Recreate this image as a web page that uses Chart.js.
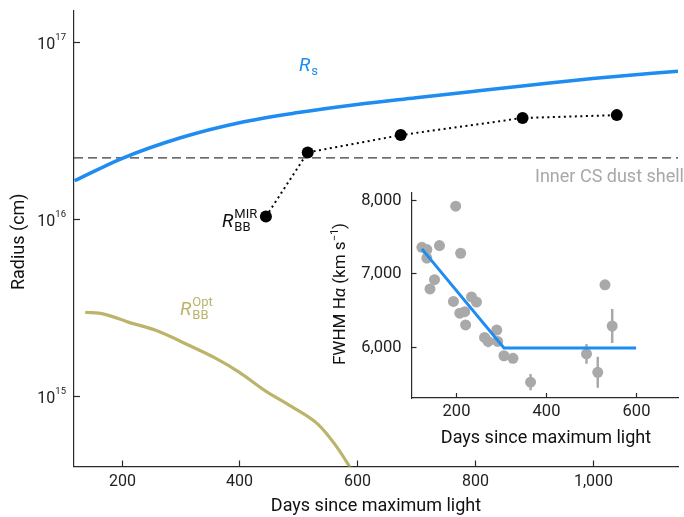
<!DOCTYPE html>
<html>
<head>
<meta charset="utf-8">
<script src="https://cdn.jsdelivr.net/npm/chart.js@4.4.1/dist/chart.umd.min.js"></script>
<style>
html, body { margin: 0; padding: 0; background: #fff; }
#wrap { position: relative; width: 684px; height: 517px; }
canvas { position: absolute; left: 0; top: 0; }
</style>
</head>
<body>
<div id="wrap">
  <canvas id="main" width="684" height="517"></canvas>
  <canvas id="inset" width="684" height="517"></canvas>
</div>
<script>

// main panel: radius vs days
var rsDays = [120, 200, 300, 400, 500, 600, 700, 800, 900, 1000, 1145];
var rsRadius = [1.64e16, 2.19e16, 2.87e16, 3.49e16, 3.98e16, 4.42e16, 4.82e16, 5.25e16, 5.71e16, 6.19e16, 6.82e16];

var optDays = [138, 170, 210, 259, 316, 360, 400, 444, 489, 534, 561, 585, 597];
var optRadius = [2.97e15, 2.90e15, 2.62e15, 2.34e15, 1.92e15, 1.63e15, 1.36e15, 1.07e15, 8.7e14, 6.9e14, 5.4e14, 4.1e14, 3.5e14];

var mirDays = [445, 516, 674, 881, 1041];
var mirRadius = [1.03e16, 2.37e16, 2.97e16, 3.71e16, 3.85e16];

var dustRadius = 2.21e16;

var xMin = 119, xMax = 1145;
var yMin = 4.0e14, yMax = 1.49e17;
var xTicks = [200, 400, 600, 800, 1000];
var yTicks = [1e15, 1e16, 1e17];

// inset: FWHM of H-alpha
var fwhmDays = [125, 136, 136, 164, 200, 211, 153, 143, 195, 235, 246, 209, 220, 222, 264, 272, 291, 293, 307, 327, 366, 490, 515, 531, 547];
var fwhmVals = [7350, 7320, 7205, 7375, 7910, 7270, 6910, 6785, 6615, 6675, 6605, 6455, 6475, 6295, 6125, 6070, 6225, 6070, 5875, 5840, 5515, 5900, 5650, 6840, 6280];
var fwhmErr = [0, 0, 70, 0, 0, 0, 0, 0, 0, 0, 0, 0, 0, 0, 0, 80, 0, 0, 0, 0, 111, 134, 211, 0, 232];

var fitDays = [125, 307, 600];
var fitVals = [7330, 5980, 5980];

var insetXMin = 102, insetXMax = 694;
var insetYMin = 5300, insetYMax = 8090;
var insetXTicks = [200, 400, 600];
var insetYTicks = [6000, 7000, 8000];

var BLUE = '#1f8cf2';
var OLIVE = '#bdb46b';
var GREY = '#a9a9a9';
var AXIS = '#2a2a2a';
var FONT = 'Roboto, "Liberation Sans", sans-serif';

function toXY(xs, ys) {
    return xs.map(function (x, i) { return { x: x, y: ys[i] }; });
}

function fmt(v) {
    return v.toLocaleString('en-US');
}

// draws a run of text pieces (different fonts / baseline shifts) starting at x
function drawRuns(ctx, runs, x, y, align) {
    var total = 0;
    runs.forEach(function (r) { ctx.font = r.font; total += ctx.measureText(r.t).width; });
    var cx = align === 'right' ? x - total : align === 'center' ? x - total / 2 : x;
    ctx.textAlign = 'left';
    ctx.textBaseline = 'alphabetic';
    runs.forEach(function (r) {
        ctx.font = r.font;
        ctx.fillText(r.t, cx, y + (r.dy || 0));
        cx += ctx.measureText(r.t).width;
    });
}

function drawR(ctx, x, y, sub, sup, color) {
    ctx.fillStyle = color;
    ctx.textAlign = 'left';
    ctx.textBaseline = 'alphabetic';
    ctx.font = 'italic 19px ' + FONT;
    ctx.fillText('R', x, y);
    var w = ctx.measureText('R').width + 1;
    ctx.font = '13px ' + FONT;
    if (sup) ctx.fillText(sup, x + w, y - 9);
    if (sub) ctx.fillText(sub, x + w, y + 4);
}

function tickLine(ctx, x1, y1, x2, y2) {
    ctx.beginPath();
    ctx.moveTo(x1, y1);
    ctx.lineTo(x2, y2);
    ctx.stroke();
}

var mainDecor = {
    id: 'mainDecor',
    afterDraw: function (chart) {
        var ctx = chart.ctx, xs = chart.scales.x, ys = chart.scales.y, a = chart.chartArea;
        ctx.save();
        ctx.strokeStyle = AXIS;
        ctx.lineWidth = 1.2;
        ctx.fillStyle = '#222';

        xTicks.forEach(function (v) {
            var px = Math.round(xs.getPixelForValue(v)) + 0.5;
            tickLine(ctx, px, a.bottom, px, a.bottom - 6);
            ctx.font = '16px ' + FONT;
            ctx.textAlign = 'center';
            ctx.textBaseline = 'middle';
            ctx.fillText(fmt(v), px, a.bottom + 15);
        });

        yTicks.forEach(function (v) {
            var py = Math.round(ys.getPixelForValue(v)) + 0.5;
            tickLine(ctx, a.left, py, a.left + 6, py);
            ctx.fillStyle = '#222';
            drawRuns(ctx, [
                { t: '10', font: '16px ' + FONT },
                { t: String(Math.round(Math.log10(v))), font: '9.5px ' + FONT, dy: -9 }
            ], a.left - 8, py + 6, 'right');
        });

        // axis titles
        ctx.fillStyle = '#111';
        ctx.font = '18px ' + FONT;
        ctx.textAlign = 'center';
        ctx.textBaseline = 'middle';
        ctx.fillText('Days since maximum light', (a.left + a.right) / 2, 506);

        ctx.save();
        ctx.translate(19, (a.top + a.bottom) / 2 + 3);
        ctx.rotate(-Math.PI / 2);
        ctx.fillText('Radius (cm)', 0, 0);
        ctx.restore();

        // labels
        drawR(ctx, 299, 71, 's', null, BLUE);
        drawR(ctx, 222, 227, 'BB', 'MIR', '#111');
        drawR(ctx, 180, 315, 'BB', 'Opt', OLIVE);

        ctx.fillStyle = '#a8a8a8';
        ctx.font = '18px ' + FONT;
        ctx.textAlign = 'right';
        ctx.textBaseline = 'middle';
        ctx.fillText('Inner CS dust shell', 684, 177);

        ctx.restore();
    }
};

var errorBars = {
    id: 'errorBars',
    beforeDatasetsDraw: function (chart) {
        var ctx = chart.ctx, xs = chart.scales.x, ys = chart.scales.y;
        ctx.save();
        ctx.strokeStyle = GREY;
        ctx.lineWidth = 2.5;
        fwhmErr.forEach(function (e, i) {
            if (!e) return;
            var px = xs.getPixelForValue(fwhmDays[i]);
            tickLine(ctx, px, ys.getPixelForValue(fwhmVals[i] - e), px, ys.getPixelForValue(fwhmVals[i] + e));
        });
        ctx.restore();
    }
};

var insetDecor = {
    id: 'insetDecor',
    afterDraw: function (chart) {
        var ctx = chart.ctx, xs = chart.scales.x, ys = chart.scales.y, a = chart.chartArea;
        ctx.save();
        ctx.strokeStyle = AXIS;
        ctx.lineWidth = 1.2;
        ctx.fillStyle = '#222';
        ctx.font = '16.5px ' + FONT;

        insetXTicks.forEach(function (v) {
            var px = Math.round(xs.getPixelForValue(v)) + 0.5;
            tickLine(ctx, px, a.bottom, px, a.bottom - 5);
            ctx.textAlign = 'center';
            ctx.textBaseline = 'middle';
            ctx.fillText(fmt(v), px, a.bottom + 14);
        });

        insetYTicks.forEach(function (v) {
            var py = Math.round(ys.getPixelForValue(v)) + 0.5;
            tickLine(ctx, a.left, py, a.left + 5, py);
            ctx.textAlign = 'right';
            ctx.textBaseline = 'middle';
            ctx.fillText(fmt(v), a.left - 10, py);
        });

        ctx.fillStyle = '#111';
        ctx.font = '18px ' + FONT;
        ctx.textAlign = 'center';
        ctx.textBaseline = 'middle';
        ctx.fillText('Days since maximum light', (a.left + a.right) / 2 + 1, 438);

        ctx.save();
        ctx.translate(339, 294);
        ctx.rotate(-Math.PI / 2);
        drawRuns(ctx, [
            { t: 'FWHM H', font: '17px ' + FONT },
            { t: 'α', font: 'italic 17px ' + FONT },
            { t: ' (km s', font: '17px ' + FONT },
            { t: '−1', font: '11px ' + FONT, dy: -7 },
            { t: ')', font: '17px ' + FONT }
        ], 0, 6, 'center');
        ctx.restore();

        ctx.restore();
    }
};

function hiddenAxis(type, min, max) {
    return {
        type: type, min: min, max: max,
        grid: { display: false, drawTicks: false },
        ticks: { display: false },
        border: { display: true, color: AXIS, width: 1.2 }
    };
}

new Chart(document.getElementById('main'), {
    type: 'scatter',
    data: {
        datasets: [
            {
                data: toXY(mirDays, mirRadius), showLine: true,
                borderColor: '#000', borderWidth: 2, borderDash: [2, 3.5],
                pointRadius: 6, pointBackgroundColor: '#000', pointBorderWidth: 0
            },
            {
                data: toXY(rsDays, rsRadius), showLine: true,
                borderColor: BLUE, borderWidth: 3.5, pointRadius: 0,
                cubicInterpolationMode: 'monotone'
            },
            {
                data: toXY(optDays, optRadius), showLine: true,
                borderColor: OLIVE, borderWidth: 3.2, pointRadius: 0,
                cubicInterpolationMode: 'monotone'
            },
            {
                data: [{ x: xMin, y: dustRadius }, { x: xMax, y: dustRadius }], showLine: true,
                borderColor: '#3a3a3a', borderWidth: 1.2, borderDash: [9, 5], pointRadius: 0
            }
        ]
    },
    options: {
        responsive: false,
        animation: false,
        layout: { padding: { left: 74, top: 11, right: 0, bottom: 50.5 } },
        plugins: { legend: { display: false }, tooltip: { enabled: false } },
        scales: {
            x: hiddenAxis('linear', xMin, xMax),
            y: hiddenAxis('logarithmic', yMin, yMax)
        }
    },
    plugins: [mainDecor]
});

new Chart(document.getElementById('inset'), {
    type: 'scatter',
    data: {
        datasets: [
            {
                data: toXY(fitDays, fitVals), showLine: true,
                borderColor: BLUE, borderWidth: 3, pointRadius: 0
            },
            {
                data: toXY(fwhmDays, fwhmVals),
                pointRadius: 5.5, pointBackgroundColor: GREY, pointBorderWidth: 0
            }
        ]
    },
    options: {
        responsive: false,
        animation: false,
        layout: { padding: { left: 411.5, top: 193, right: 0, bottom: 119 } },
        plugins: { legend: { display: false }, tooltip: { enabled: false } },
        scales: {
            x: hiddenAxis('linear', insetXMin, insetXMax),
            y: hiddenAxis('linear', insetYMin, insetYMax)
        }
    },
    plugins: [errorBars, insetDecor]
});
</script>
</body>
</html>
